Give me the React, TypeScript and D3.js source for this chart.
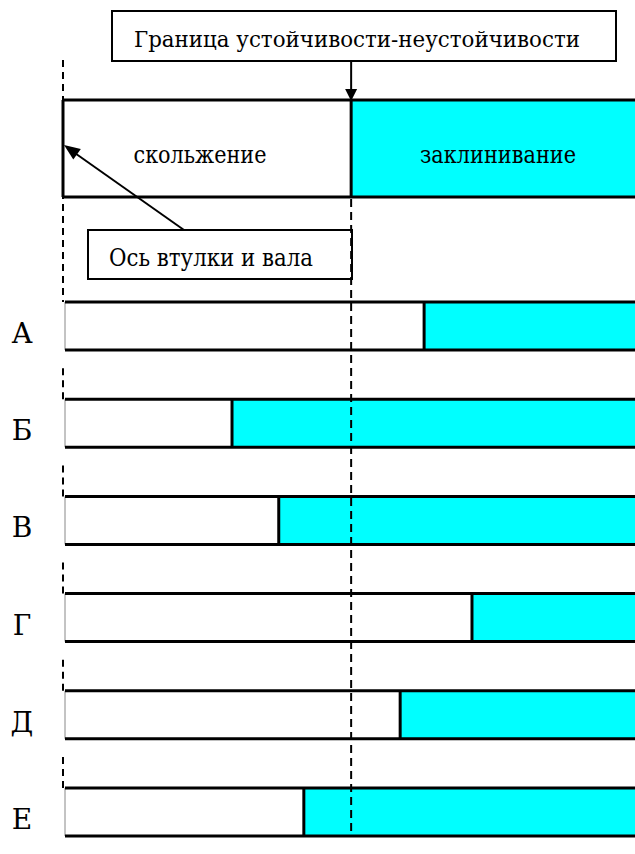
import React from "react";
import * as d3 from "d3";

const categories = ["А", "Б", "В", "Г", "Д", "Е"];
const boundaryValues = [63.0, 29.3, 37.5, 71.4, 58.8, 41.9];
const stabilityBoundary = 50.2;
const titleText = "Граница устойчивости-неустойчивости";
const axisText = "Ось втулки и вала";
const slideText = "скольжение";
const jamText = "заклинивание";

const W = 635;
const H = 854;
const FONT = "'DejaVu Serif', serif";
const CYAN = "#00FFFF";

export default function App() {
  const x = d3.scaleLinear().domain([0, 100]).range([65, 635]);
  const yTop = d3.scalePoint<string>().domain(categories).range([302, 788]);
  const barH = 48;
  const xb = x(stabilityBoundary);
  const axisX = 63;

  const topBar = { y0: 100, y1: 197, left: 63 };

  const tri = (tx: number, ty: number, fx: number, fy: number, len: number, hw: number) => {
    const dx = tx - fx, dy = ty - fy;
    const L = Math.hypot(dx, dy);
    const ux = dx / L, uy = dy / L;
    const bx = tx - ux * len, by = ty - uy * len;
    const px = -uy, py = ux;
    return `M${tx},${ty}L${bx + px * hw},${by + py * hw}L${bx - px * hw},${by - py * hw}Z`;
  };

  const txt = (s: string, cx: number, y0: number, len: number, fs: number) => (
    <text x={cx} y={y0} fontSize={fs} textAnchor="middle" textLength={len} lengthAdjust="spacingAndGlyphs" fill="#000" style={{ fontFamily: FONT }}>{s}</text>
  );

  return (
    <svg width={W} height={H} style={{ position: "absolute", left: 0, top: 0, background: "#fff", fontFamily: FONT }}>
      <rect x={0} y={0} width={W} height={H} fill="#fff" />
      {/* Title box */}
      <rect x={112} y={11} width={504} height={50} fill="#fff" stroke="#000" strokeWidth={2} />
      {txt(titleText, 357, 47, 446, 23)}

      {/* top reference bar */}
      <rect x={xb} y={topBar.y0} width={W - xb + 5} height={topBar.y1 - topBar.y0} fill={CYAN} />
      <line x1={topBar.left} x2={W + 5} y1={topBar.y0} y2={topBar.y0} stroke="#000" strokeWidth={3} />
      <line x1={topBar.left} x2={W + 5} y1={topBar.y1} y2={topBar.y1} stroke="#000" strokeWidth={3} />
      <line x1={topBar.left} x2={topBar.left} y1={topBar.y0} y2={topBar.y1} stroke="#000" strokeWidth={3} />
      <line x1={xb} x2={xb} y1={topBar.y0} y2={topBar.y1} stroke="#000" strokeWidth={3} />
      {txt(slideText, 200, 163, 133, 24)}
      {txt(jamText, 498, 163, 156, 24)}

      {/* title arrow */}
      <line x1={xb} x2={xb} y1={61} y2={90} stroke="#000" strokeWidth={2} />
      <path d={tri(xb, 101, xb, 61, 12, 6)} fill="#000" />

      {/* axis label box and arrow */}
      <rect x={88} y={230} width={264} height={49} fill="#fff" stroke="#000" strokeWidth={2} />
      {txt(axisText, 211, 266, 204, 24)}
      <line x1={184} y1={230} x2={72} y2={151} stroke="#000" strokeWidth={2} />
      <path d={tri(64, 145, 184, 230, 16, 6.5)} fill="#000" />

      {/* left axis dashed line, top segment */}
      <line x1={axisX} x2={axisX} y1={60} y2={302} stroke="#000" strokeWidth={2} strokeDasharray="7,5" />

      {/* rows */}
      {categories.map((c, i) => {
        const t = yTop(c)!;
        const bx = x(boundaryValues[i]);
        return (
          <g key={c}>
            <rect x={bx} y={t} width={W - bx + 5} height={barH} fill={CYAN} />
            <line x1={65} x2={65} y1={t} y2={t + barH} stroke="#888" strokeWidth={1} />
            <line x1={65} x2={W + 5} y1={t} y2={t} stroke="#000" strokeWidth={3} />
            <line x1={65} x2={W + 5} y1={t + barH} y2={t + barH} stroke="#000" strokeWidth={3} />
            <line x1={bx} x2={bx} y1={t} y2={t + barH} stroke="#000" strokeWidth={3} />
            <text x={22} y={t + 41} fontSize={28} textAnchor="middle" fill="#000" style={{ fontFamily: FONT }}>{c}</text>
            {i > 0 && (
              <line x1={axisX} x2={axisX} y1={t - 31} y2={t} stroke="#000" strokeWidth={2} strokeDasharray="7,5" />
            )}
          </g>
        );
      })}

      {/* stability boundary dashed line */}
      <line x1={xb} x2={xb} y1={199} y2={832} stroke="#000" strokeWidth={2} strokeDasharray="8,5" />
    </svg>
  );
}
